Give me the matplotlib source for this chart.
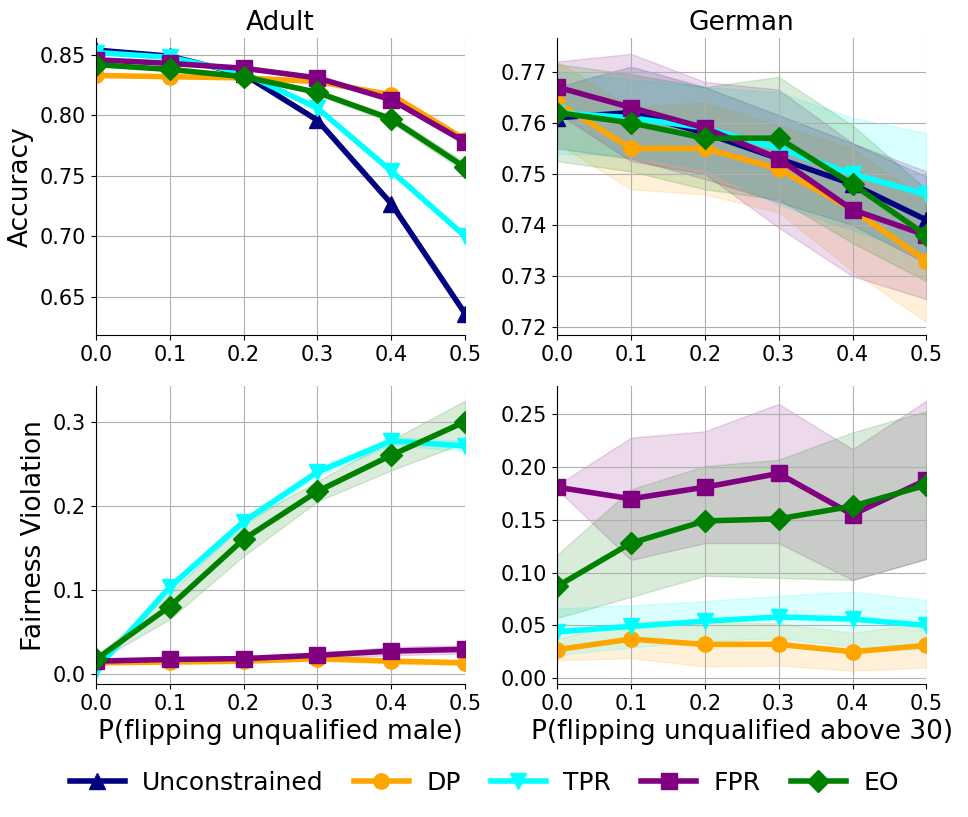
import numpy as np
import matplotlib
matplotlib.use("Agg")
import matplotlib.pyplot as plt

plt.rc("font", family="DejaVu Sans", size=15)

ps = [0.0, 0.1, 0.2, 0.3, 0.4, 0.5]
methods = ["Unconstrained", "DP", "TPR", "FPR", "EO"]
colors = ["navy", "orange", "cyan", "purple", "green"]
markers = ["^", "o", "v", "s", "D"]

# Adult accuracy (mean, std)
adult_acc = {
    "Unconstrained": [0.854, 0.849, 0.834, 0.796, 0.727, 0.636],
    "DP": [0.833, 0.832, 0.831, 0.828, 0.817, 0.780],
    "TPR": [0.852, 0.848, 0.835, 0.806, 0.754, 0.700],
    "FPR": [0.846, 0.843, 0.839, 0.831, 0.813, 0.778],
    "EO": [0.842, 0.838, 0.832, 0.819, 0.797, 0.757],
}
adult_acc_std = {
    "Unconstrained": [0.001, 0.001, 0.001, 0.002, 0.002, 0.003],
    "DP": [0.001, 0.001, 0.001, 0.001, 0.002, 0.002],
    "TPR": [0.001, 0.001, 0.001, 0.002, 0.002, 0.002],
    "FPR": [0.001, 0.001, 0.001, 0.001, 0.002, 0.002],
    "EO": [0.001, 0.001, 0.001, 0.002, 0.003, 0.004],
}

# German accuracy
german_acc = {
    "Unconstrained": [0.761, 0.762, 0.758, 0.753, 0.748, 0.741],
    "DP": [0.764, 0.755, 0.755, 0.751, 0.743, 0.733],
    "TPR": [0.762, 0.761, 0.759, 0.755, 0.750, 0.746],
    "FPR": [0.767, 0.763, 0.759, 0.753, 0.743, 0.738],
    "EO": [0.762, 0.760, 0.757, 0.757, 0.748, 0.738],
}
german_acc_std = {
    "Unconstrained": [0.006, 0.009, 0.009, 0.0085, 0.008, 0.0085],
    "DP": [0.008, 0.008, 0.009, 0.0085, 0.012, 0.012],
    "TPR": [0.008, 0.0075, 0.008, 0.011, 0.011, 0.012],
    "FPR": [0.005, 0.0105, 0.009, 0.0135, 0.013, 0.0125],
    "EO": [0.0095, 0.0095, 0.010, 0.012, 0.0115, 0.009],
}

# Adult fairness violation
adult_fv = {
    "DP": [0.013, 0.014, 0.015, 0.018, 0.015, 0.013],
    "TPR": [0.005, 0.103, 0.181, 0.240, 0.277, 0.271],
    "FPR": [0.015, 0.017, 0.018, 0.022, 0.027, 0.029],
    "EO": [0.017, 0.080, 0.160, 0.217, 0.260, 0.300],
}
adult_fv_std = {
    "DP": [0.002, 0.002, 0.002, 0.003, 0.003, 0.003],
    "TPR": [0.003, 0.004, 0.005, 0.005, 0.005, 0.006],
    "FPR": [0.002, 0.002, 0.002, 0.003, 0.005, 0.005],
    "EO": [0.003, 0.015, 0.020, 0.012, 0.018, 0.025],
}

# German fairness violation
german_fv = {
    "DP": [0.027, 0.037, 0.032, 0.032, 0.025, 0.031],
    "TPR": [0.044, 0.049, 0.054, 0.058, 0.056, 0.050],
    "FPR": [0.181, 0.170, 0.181, 0.194, 0.155, 0.188],
    "EO": [0.087, 0.128, 0.149, 0.151, 0.163, 0.183],
}
german_fv_std = {
    "DP": [0.010, 0.018, 0.021, 0.020, 0.018, 0.021],
    "TPR": [0.022, 0.020, 0.019, 0.020, 0.026, 0.024],
    "FPR": [0.002, 0.058, 0.053, 0.066, 0.062, 0.075],
    "EO": [0.030, 0.051, 0.052, 0.056, 0.070, 0.070],
}

fig, axes = plt.subplots(2, 2, figsize=(9.68, 8.17), dpi=100)
plt.subplots_adjust(left=0.099, right=0.957, top=0.9535, bottom=0.163,
                    wspace=0.249, hspace=0.171)

panels = [
    (axes[0, 0], adult_acc, adult_acc_std, (0.618, 0.864)),
    (axes[0, 1], german_acc, german_acc_std, (0.7184, 0.7766)),
    (axes[1, 0], adult_fv, adult_fv_std, (-0.012, 0.342)),
    (axes[1, 1], german_fv, german_fv_std, (-0.0054, 0.2766)),
]

for ax, means, stds, ylim in panels:
    for m, c, mk in zip(methods, colors, markers):
        if m not in means:
            continue
        mu = np.array(means[m])
        sd = np.array(stds[m])
        ax.fill_between(ps, mu - sd, mu + sd, color=c, alpha=0.15)
        ax.plot(ps, mu, color=c, marker=mk, markersize=11, linewidth=4, label=m)
    ax.set_xlim(0, 0.5)
    ax.set_ylim(*ylim)
    ax.set_xticks(ps)
    ax.grid(True, color="#b0b0b0")
    ax.spines["top"].set_visible(False)
    ax.spines["right"].set_visible(False)

axes[0, 0].set_title("Adult", size=19)
axes[0, 1].set_title("German", size=19)
axes[0, 0].set_ylabel("Accuracy", size=19)
axes[1, 0].set_ylabel("Fairness Violation", size=19)
axes[1, 0].set_xlabel("P(flipping unqualified male)", size=19)
axes[1, 1].set_xlabel("P(flipping unqualified above 30)", size=19)
axes[1, 0].set_yticks([0.0, 0.1, 0.2, 0.3])
axes[1, 1].set_yticks([0.0, 0.05, 0.10, 0.15, 0.20, 0.25])

handles, labels = axes[0, 0].get_legend_handles_labels()
fig.legend(handles, labels, loc="lower center", ncol=5, frameon=False,
           fontsize=18, bbox_to_anchor=(0.5, 0.0), handlelength=2.2,
           columnspacing=1.2, handletextpad=0.7)

plt.savefig("out.png", dpi=100)
